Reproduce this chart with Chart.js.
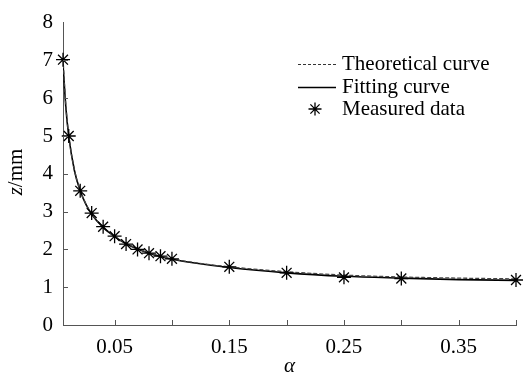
<!DOCTYPE html>
<html>
<head>
<meta charset="utf-8">
<script src="https://cdn.jsdelivr.net/npm/chart.js@4.4.1/dist/chart.umd.min.js"></script>
<style>
  html, body { margin: 0; padding: 0; background: #fff; }
  #wrap { width: 526px; height: 375px; position: relative; }
</style>
</head>
<body>
<div id="wrap"><canvas id="c" width="526" height="375"></canvas></div>
<script>
// measured points (alpha, z/mm)
const measuredAlpha = [0.005, 0.01, 0.02, 0.03, 0.04, 0.05, 0.06, 0.07, 0.08, 0.09, 0.10, 0.15, 0.20, 0.25, 0.30, 0.40];
const measuredZ     = [7.02, 5.00, 3.55, 2.96, 2.60, 2.35, 2.14, 2.00, 1.90, 1.82, 1.75, 1.54, 1.38, 1.26, 1.23, 1.19];

// curves
const curveAlpha   = [0.005, 0.0075, 0.01, 0.015, 0.02, 0.025, 0.03, 0.04, 0.05, 0.06, 0.07, 0.08, 0.09, 0.10, 0.12, 0.15, 0.20, 0.25, 0.30, 0.35, 0.40];
const theoreticalZ = [7.05, 5.80, 5.02, 4.10, 3.56, 3.20, 2.94, 2.59, 2.35, 2.16, 2.02, 1.91, 1.82, 1.75, 1.65, 1.54, 1.41, 1.32, 1.27, 1.24, 1.22];
const fittingZ     = [6.90, 5.75, 5.00, 4.08, 3.55, 3.19, 2.93, 2.58, 2.34, 2.15, 2.01, 1.90, 1.81, 1.74, 1.64, 1.52, 1.38, 1.29, 1.24, 1.20, 1.18];

const xTicks = [0.05, 0.10, 0.15, 0.20, 0.25, 0.30, 0.35, 0.40];
const xTickLabels = ['0.05', '', '0.15', '', '0.25', '', '0.35', ''];
const yTicks = [0, 1, 2, 3, 4, 5, 6, 7, 8];

const legendLabels = ['Theoretical curve', 'Fitting curve', 'Measured data'];

const FONT = '"Liberation Serif", "Times New Roman", serif';
const AXIS = '#555';

function pts(xs, ys){
  return xs.map((x, i) => ({x: x, y: ys[i]}));
}

// inward tick marks, axis titles and legend
const extras = {
  id: 'extras',
  afterDatasetsDraw(chart){
    const ctx = chart.ctx;
    const xs = chart.scales.x, ys = chart.scales.y;
    const area = chart.chartArea;
    ctx.save();
    ctx.strokeStyle = AXIS;
    ctx.lineWidth = 1;
    ctx.beginPath();
    xTicks.forEach(v => {
      const px = Math.round(xs.getPixelForValue(v)) + 0.5;
      ctx.moveTo(px, area.bottom);
      ctx.lineTo(px, area.bottom - 5);
    });
    yTicks.forEach(v => {
      if(v == 0 || v == 8) return;
      const py = Math.round(ys.getPixelForValue(v)) + 0.5;
      ctx.moveTo(area.left, py);
      ctx.lineTo(area.left + 5, py);
    });
    ctx.stroke();

    // axis titles
    ctx.fillStyle = '#000';
    ctx.textBaseline = 'middle';
    ctx.textAlign = 'center';
    ctx.font = 'italic 21px ' + FONT;
    ctx.fillText('\u03b1', (area.left + area.right) / 2, 366);

    ctx.save();
    ctx.translate(16, 172);
    ctx.rotate(-Math.PI / 2);
    ctx.textAlign = 'left';
    ctx.font = 'italic 21px ' + FONT;
    const zw = ctx.measureText('z').width;
    ctx.font = '21px ' + FONT;
    const rw = ctx.measureText('/mm').width;
    const start = -(zw + rw) / 2;
    ctx.font = 'italic 21px ' + FONT;
    ctx.fillText('z', start, 0);
    ctx.font = '21px ' + FONT;
    ctx.fillText('/mm', start + zw, 0);
    ctx.restore();

    // legend
    ctx.font = '21px ' + FONT;
    ctx.textAlign = 'left';
    const rows = [64, 87, 109];
    ctx.fillText(legendLabels[0], 342, rows[0]);
    ctx.fillText(legendLabels[1], 342, rows[1]);
    ctx.fillText(legendLabels[2], 342, rows[2]);

    ctx.lineWidth = 1.2;
    ctx.strokeStyle = '#333';
    ctx.setLineDash([3, 2]);
    ctx.beginPath();
    ctx.moveTo(298, rows[0] + 0.5);
    ctx.lineTo(336, rows[0] + 0.5);
    ctx.stroke();
    ctx.setLineDash([]);
    ctx.strokeStyle = '#000';
    ctx.lineWidth = 1.5;
    ctx.beginPath();
    ctx.moveTo(298, rows[1] + 0.5);
    ctx.lineTo(336, rows[1] + 0.5);
    ctx.stroke();

    ctx.strokeStyle = '#000';
    ctx.fillStyle = '#000';
    ctx.lineWidth = 1.3;
    Chart.helpers.drawPoint(ctx, {pointStyle: 'star', radius: 6.5, borderWidth: 1.3, rotation: 0}, 315, rows[2]);
    ctx.restore();
  }
};

const chart = new Chart(document.getElementById('c'), {
  type: 'scatter',
  plugins: [extras],
  data: {
    datasets: [{
      label: legendLabels[1],
      type: 'line',
      data: pts(curveAlpha, fittingZ),
      borderColor: '#000',
      borderWidth: 1.6,
      pointRadius: 0,
      cubicInterpolationMode: 'monotone',
      fill: false,
      order: 3
    },{
      label: legendLabels[0],
      type: 'line',
      data: pts(curveAlpha, theoreticalZ),
      borderColor: '#444',
      borderWidth: 1.3,
      borderDash: [4, 2],
      pointRadius: 0,
      cubicInterpolationMode: 'monotone',
      fill: false,
      order: 2
    },{
      label: legendLabels[2],
      data: pts(measuredAlpha, measuredZ),
      pointStyle: 'star',
      pointRadius: 7,
      borderColor: '#000',
      backgroundColor: '#000',
      pointBorderWidth: 1.3,
      clip: false,
      order: 1
    }]
  },
  options: {
    responsive: false,
    animation: false,
    events: [],
    layout: { padding: { top: 18, right: 6, left: 0, bottom: 0 } },
    plugins: { legend: { display: false }, tooltip: { enabled: false } },
    scales: {
      x: {
        type: 'linear',
        min: 0.005,
        max: 0.4,
        afterBuildTicks: function(scale){
          scale.ticks = xTicks.map(v => ({value: v}));
        },
        afterFit: function(scale){ scale.height = 50; },
        grid: { display: false, drawTicks: false },
        border: { display: true, color: AXIS, width: 1 },
        ticks: {
          padding: 10,
          maxRotation: 0,
          autoSkip: false,
          color: '#000',
          font: { family: FONT, size: 21 },
          callback: function(value){
            const i = xTicks.findIndex(t => Math.abs(t - value) < 1e-9);
            return i >= 0 ? xTickLabels[i] : '';
          }
        }
      },
      y: {
        min: 0,
        max: 8,
        afterBuildTicks: function(scale){
          scale.ticks = yTicks.map(v => ({value: v}));
        },
        afterFit: function(scale){ scale.width = 63; },
        grid: { display: false, drawTicks: false },
        border: { display: true, color: AXIS, width: 1 },
        ticks: {
          padding: 10,
          color: '#000',
          font: { family: FONT, size: 21 }
        }
      }
    }
  }
});
</script>
</body>
</html>
